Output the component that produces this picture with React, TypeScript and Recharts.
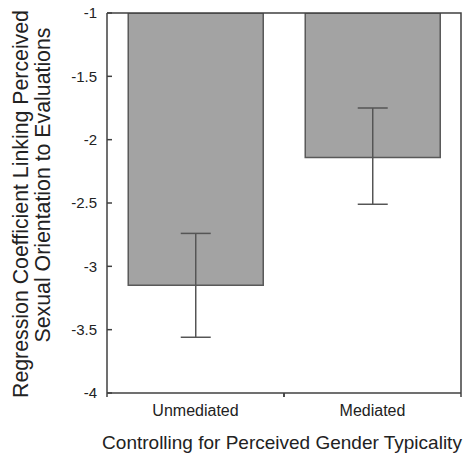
import React from 'react';
import { BarChart, Bar, XAxis, YAxis, ErrorBar } from 'recharts';

const categories = ['Unmediated', 'Mediated'];
const coefficients = [-3.15, -2.14];
const errLower = [0.41, 0.37];
const errUpper = [0.41, 0.39];
const yTicks = [-1, -1.5, -2, -2.5, -3, -3.5, -4];

const data = categories.map((name, i) => ({
  name,
  value: coefficients[i],
  err: [errLower[i], errUpper[i]],
}));

const FONT = '"Liberation Sans", Arial, sans-serif';
const INK = '#404040';
const TOP = 13;

// bottom ticks sit on the category edges, not centres
const XTick = (props: any) => {
  const { x, y, payload } = props;
  const half = payload.offset ?? 0;
  const axisY = y - 12;
  return (
    <g>
      <line x1={x - half} x2={x - half} y1={axisY} y2={axisY + 4} stroke={INK} strokeWidth={1.5} />
      <line x1={x + half} x2={x + half} y1={axisY} y2={axisY + 4} stroke={INK} strokeWidth={1.5} />
      <text x={x} y={y} dy="0.71em" textAnchor="middle" fontSize={16} fontFamily={FONT} fill="#222">
        {payload.value}
      </text>
    </g>
  );
};

// left ticks point into the plot
const YTick = (props: any) => {
  const { x, y, payload } = props;
  const axisX = x + 10;
  return (
    <g>
      <line x1={axisX} x2={axisX + 5} y1={y} y2={y} stroke={INK} strokeWidth={1.5} />
      <text x={x} y={y} dy="0.36em" textAnchor="end" fontSize={15} fontFamily={FONT} fill="#222">
        {payload.value}
      </text>
    </g>
  );
};

const YLabel = (props: any) => {
  const { viewBox } = props;
  const cy = viewBox.y + viewBox.height / 2;
  return (
    <g fontFamily={FONT} fontSize={21.3} fill="#222">
      <text x={28} y={cy + 1} textAnchor="middle" transform={`rotate(-90 28 ${cy + 1})`}>
        Regression Coefficient Linking Perceived
      </text>
      <text x={50} y={cy - 18} textAnchor="middle" transform={`rotate(-90 50 ${cy - 18})`}>
        Sexual Orientation to Evaluations
      </text>
    </g>
  );
};

// x title, plus the top and right edges of the plot box
const XLabel = (props: any) => {
  const { viewBox } = props;
  const left = viewBox.x;
  const right = viewBox.x + viewBox.width;
  const bottom = viewBox.y;
  return (
    <g>
      <path
        d={`M${left},${TOP} H${right} V${bottom}`}
        fill="none"
        stroke={INK}
        strokeWidth={1.5}
      />
      <text
        x={(left + right) / 2 - 2}
        y={449}
        textAnchor="middle"
        fontFamily={FONT}
        fontSize={19}
        fill="#222"
      >
        Controlling for Perceived Gender Typicality
      </text>
    </g>
  );
};

export default function App() {
  return (
    <div style={{ position: 'absolute', top: 0, left: 0, width: 464, height: 454 }}>
      <BarChart
        width={464}
        height={454}
        data={data}
        margin={{ top: TOP, right: 3, bottom: 0, left: 0 }}
        barCategoryGap="12%"
      >
        <XAxis
          dataKey="name"
          height={61}
          tickSize={0}
          tickMargin={12}
          tickLine={false}
          axisLine={{ stroke: INK, strokeWidth: 1.5 }}
          tick={<XTick />}
          label={<XLabel />}
        />
        <YAxis
          type="number"
          domain={[-4, -1]}
          ticks={yTicks}
          interval={0}
          allowDataOverflow
          width={107}
          tickSize={0}
          tickMargin={10}
          tickLine={false}
          axisLine={{ stroke: INK, strokeWidth: 1.5 }}
          tick={<YTick />}
          label={<YLabel />}
        />
        <Bar dataKey="value" fill="#a3a3a3" stroke="#595959" strokeWidth={1.5} isAnimationActive={false}>
          <ErrorBar dataKey="err" width={15} stroke="#555" strokeWidth={1.5} isAnimationActive={false} />
        </Bar>
      </BarChart>
    </div>
  );
}
